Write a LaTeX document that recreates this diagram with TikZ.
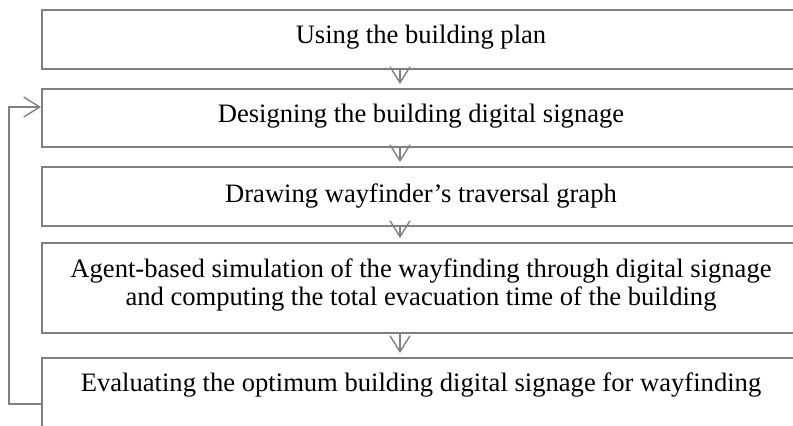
\documentclass[tikz,border=0pt]{standalone}
\usepackage{fontspec}
\setmainfont{Liberation Serif}
\usetikzlibrary{arrows.meta}
\usetikzlibrary{positioning}

\begin{document}
\begin{tikzpicture}[x=0.5pt, y=-0.5pt,
    box/.style={draw=gray, line width=0.8pt, anchor=north west, inner sep=0pt, minimum width=400pt},
    txt/.style={font=\fontsize{13.3}{14}\selectfont, align=center, inner sep=0pt},
    flow/.style={draw=gray, line width=0.7pt, -{Straight Barb[length=8pt, width=10pt, line width=0.7pt]}}]
    \useasboundingbox (0,0) rectangle (793,425);
    \clip (0,0) rectangle (793,425);
    \node [box, minimum height=29.5pt] (b1) at (41,9) {};
    \node [box, minimum height=29pt] (b2) at (41,88) {};
    \node [box, minimum height=29.5pt] (b3) at (41,166) {};
    \node [box, minimum height=45pt] (b4) at (41,242) {};
    \node [box, minimum height=60pt] (b5) at (41,357) {};
    \node [txt, anchor=base] (t1) at (421,43) {Using the building plan};
    \node [txt, anchor=base] (t2) at (421,122) {Designing the building digital signage};
    \node [txt, anchor=base] (t3) at (421,202) {Drawing wayfinder’s traversal graph};
    \node [txt] (t4) at (421,285) {Agent-based simulation of the wayfinding through digital signage\\and computing the total evacuation time of the building};
    \node [txt, anchor=base] (t5) at (421,391) {Evaluating the optimum building digital signage for wayfinding};
    \coordinate (mid) at (400,0);
    \coordinate (loopin) at (9,107);
    \coordinate (loopout) at (9,404);
    \draw [flow] (b1.south -| mid) -- ([yshift=2pt]b2.north -| mid);
    \draw [flow] (b2.south -| mid) -- ([yshift=2pt]b3.north -| mid);
    \draw [flow] (b3.south -| mid) -- ([yshift=2pt]b4.north -| mid);
    \draw [flow] (b4.south -| mid) -- ([yshift=2pt]b5.north -| mid);
    \draw [flow] (b5.west |- loopout) -- (loopout) -- (loopin) -- (b2.west |- loopin);
\end{tikzpicture}
\end{document}
